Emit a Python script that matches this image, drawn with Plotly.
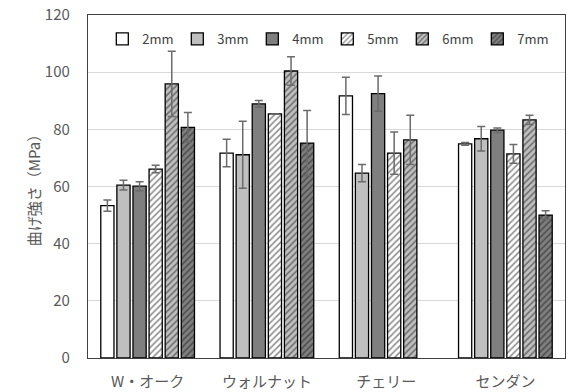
import plotly.graph_objects as go

categories = ["W・オーク", "ウォルナット", "チェリー", "センダン"]
series_names = ["2mm", "3mm", "4mm", "5mm", "6mm", "7mm"]
values = {
    "2mm": [53.3, 71.7, 91.7, 74.9],
    "3mm": [60.5, 71.1, 64.7, 76.7],
    "4mm": [60.1, 88.9, 92.5, 79.7],
    "5mm": [66.1, 85.4, 71.7, 71.4],
    "6mm": [95.9, 100.4, 76.3, 83.3],
    "7mm": [80.7, 75.2, None, 50.0],
}
errors = {
    "2mm": [2.0, 4.8, 6.5, 0.5],
    "3mm": [1.7, 11.7, 3.0, 4.3],
    "4mm": [1.6, 1.2, 6.2, 0.8],
    "5mm": [1.3, 0.0, 7.4, 3.3],
    "6mm": [11.4, 5.0, 8.6, 1.6],
    "7mm": [5.2, 11.4, 0.0, 1.5],
}
y_ticks = [0, 20, 40, 60, 80, 100, 120]

fills = {"2mm": "#ffffff", "3mm": "#bfbfbf", "4mm": "#7f7f7f",
         "5mm": "#ffffff", "6mm": "#bfbfbf", "7mm": "#7f7f7f"}
hatched = {"5mm", "6mm", "7mm"}

fig = go.Figure()
for s in series_names:
    pattern = dict(shape="/", fgcolor="#1a1a1a", bgcolor=fills[s], size=4.5, solidity=0.35) if s in hatched else dict(shape="")
    fig.add_trace(go.Bar(
        name=s, x=categories, y=values[s],
        marker=dict(color=fills[s], line=dict(color="#000000", width=1.3), pattern=pattern),
        error_y=dict(type="data", array=errors[s], visible=True, color="#6b6b6b", thickness=1.5, width=4),
    ))

font_family = "Noto Sans CJK JP, Open Sans, sans-serif"
fig.update_layout(
    width=568, height=392,
    margin=dict(l=88, r=3, t=15, b=34, autoexpand=False),
    paper_bgcolor="white", plot_bgcolor="white",
    barmode="group", bargap=0.19, bargroupgap=0.18,
    font=dict(family=font_family, size=14, color="#595959"),
    legend=dict(orientation="h", x=0.03, xanchor="left", y=0.93, yanchor="middle",
                font=dict(size=13, color="#404040"), itemwidth=30,
                entrywidth=30, entrywidthmode="pixels",
                bgcolor="rgba(0,0,0,0)", traceorder="normal"),
    showlegend=True,
    yaxis=dict(range=[0, 120], tickvals=y_ticks, showgrid=True, gridcolor="#d9d9d9", gridwidth=1.3,
               showline=True, linecolor="#404040", linewidth=1.3, mirror=True, ticks="",
               zeroline=False, ticklabelstandoff=14, tickfont=dict(size=15),
               title=dict(text="曲げ強さ（MPa）", font=dict(size=15, color="#595959"), standoff=0)),
    xaxis=dict(showline=True, linecolor="#404040", linewidth=1.3, mirror=True, ticks="",
               ticklabelstandoff=10, tickfont=dict(size=15, color="#595959")),
)

fig.write_html("out.html", config={"displayModeBar": False},
               post_script="document.body.style.margin='0';document.body.style.padding='0';")
